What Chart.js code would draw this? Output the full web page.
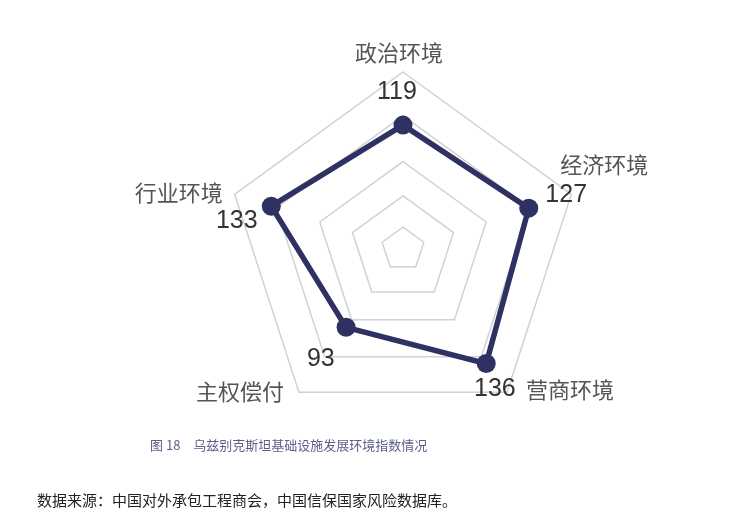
<!DOCTYPE html>
<html>
<head>
<meta charset="utf-8">
<script src="https://cdn.jsdelivr.net/npm/chart.js@4"></script>
<style>
  body { margin: 0; background: #fff; }
  #wrap { position: relative; width: 742px; height: 532px; }
  #caption {
    position: absolute; left: 150px; top: 438px;
    font: 13px "Noto Sans CJK SC", sans-serif; line-height: 14px;
    color: #5b5f88; white-space: pre;
  }
  #source {
    position: absolute; left: 37px; top: 492px;
    font: 15px "Noto Sans CJK SC", sans-serif; line-height: 16px;
    color: #222;
  }
</style>
</head>
<body>
<div id="wrap">
  <canvas id="radar" width="742" height="532"></canvas>
  <div id="caption">图 18　乌兹别克斯坦基础设施发展环境指数情况</div>
  <div id="source">数据来源：中国对外承包工程商会，中国信保国家风险数据库。</div>
</div>
<script>
//------------- DATA -----------------

const categories = ["政治环境", "经济环境", "营商环境", "主权偿付", "行业环境"];
const indexValues = [119, 127, 136, 93, 133];
const gridValues = [0, 21, 51, 84, 128, 170];

//------------- LABEL PLUGIN -----------------

// offsets from the outer vertex of each axis: [name dx, dy, align], [value dx, dy, align]
const labelSpots = [
  [[-4, -19, "center"], [-6, 20, "center"]],
  [[-11, -30, "left"], [-26, 1, "left"]],
  [[19, -3, "left"], [-33, -3, "left"]],
  [[-15, -1, "right"], [8, -33, "left"]],
  [[-12, -2, "right"], [23, 27, "right"]]
];

const axisLabels = {
  id: "axisLabels",
  afterDatasetsDraw(chart) {
    const scale = chart.scales.r;
    const ctx = chart.ctx;
    ctx.save();
    ctx.textBaseline = "middle";
    categories.forEach((name, i) => {
      const p = scale.getPointPosition(i, scale.drawingArea);
      const [n, v] = labelSpots[i];
      ctx.font = '22px "Noto Sans CJK SC", sans-serif';
      ctx.fillStyle = "#555";
      ctx.textAlign = n[2];
      ctx.fillText(name, p.x + n[0], p.y + n[1]);
      ctx.font = '25px "Liberation Sans", Arial, sans-serif';
      ctx.fillStyle = "#333";
      ctx.textAlign = v[2];
      ctx.fillText(String(indexValues[i]), p.x + v[0], p.y + v[1]);
    });
    ctx.restore();
  }
};

//------------- CHART -----------------

const chart = new Chart(document.getElementById("radar"), {
  type: "radar",
  data: {
    labels: categories,
    datasets: [{
      data: indexValues,
      fill: false,
      borderColor: "#2e3162",
      borderWidth: 5.5,
      pointBackgroundColor: "#2e3162",
      pointBorderWidth: 0,
      pointRadius: 9.5,
      tension: 0
    }]
  },
  options: {
    responsive: false,
    animation: false,
    layout: { padding: { left: 226, right: 161, top: 72, bottom: 105 } },
    plugins: { legend: { display: false }, tooltip: { enabled: false } },
    scales: {
      r: {
        min: 0,
        max: 170,
        afterBuildTicks(scale) {
          scale.ticks = gridValues.map(v => ({ value: v }));
        },
        ticks: { display: false },
        pointLabels: { display: false },
        angleLines: { display: false },
        grid: { color: "#d2d2d2", lineWidth: 1.5 }
      }
    }
  },
  plugins: [axisLabels]
});
</script>
</body>
</html>
